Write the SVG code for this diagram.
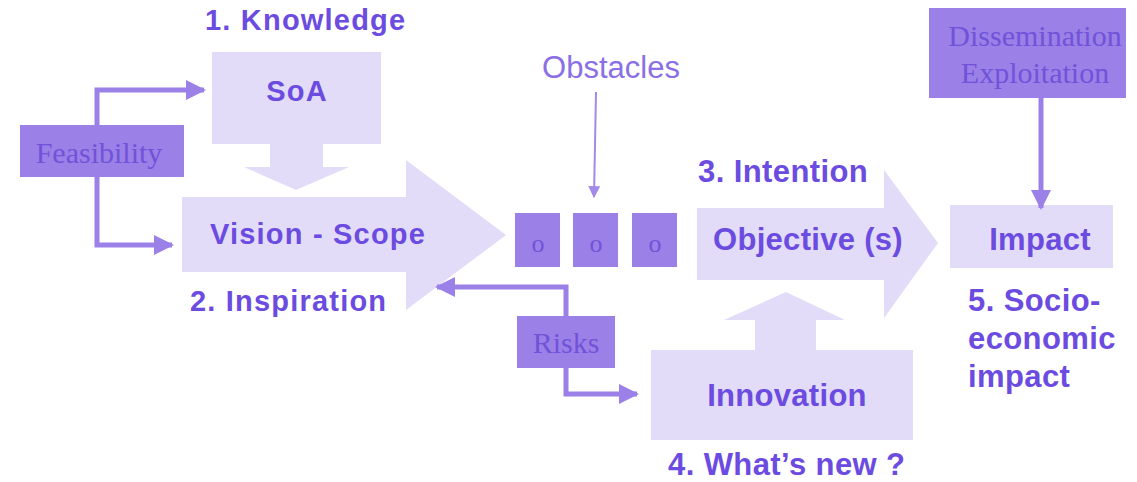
<svg xmlns="http://www.w3.org/2000/svg" width="1137" height="482" viewBox="0 0 1137 482">
<defs>
<style>
.light{fill:#e2dcf8}
.dark{fill:#9b80e8}
.lbl{font-family:"Liberation Sans",Arial,sans-serif;font-weight:bold;font-size:29px;letter-spacing:1.2px;fill:#6b4be0}
.lbl2{font-family:"Liberation Sans",Arial,sans-serif;font-weight:bold;font-size:31px;letter-spacing:0.4px;fill:#6b4be0}
.inl{font-family:"Liberation Sans",Arial,sans-serif;font-weight:bold;font-size:29px;letter-spacing:1.2px;fill:#6b4be0;text-anchor:middle}
.inl2{font-family:"Liberation Sans",Arial,sans-serif;font-weight:bold;font-size:31px;letter-spacing:0.3px;fill:#6b4be0;text-anchor:middle}
.ser{font-family:"Liberation Serif","Times New Roman",serif;font-size:30px;fill:#7053d8;text-anchor:middle}
.con{fill:none;stroke:#9b80e8;stroke-width:5}
.thin{fill:none;stroke:#a38ae8;stroke-width:2}
</style>
<marker id="ah" viewBox="0 0 10 10" refX="9" refY="5" markerWidth="4" markerHeight="4" markerUnits="strokeWidth" orient="auto">
<path d="M0,0 L10,5 L0,10 z" fill="#9b80e8"/>
</marker>
<marker id="ahs" viewBox="0 0 10 10" refX="9" refY="5" markerWidth="6" markerHeight="7" markerUnits="strokeWidth" orient="auto">
<path d="M0,0 L10,5 L0,10 z" fill="#a38ae8"/>
</marker>
</defs>
<rect width="1137" height="482" fill="#ffffff"/>

<g id="soa">
<path class="light" d="M212,52 H381 V144 H323 V167 H349 L296,190 L244,167 H270 V144 H212 Z"/>
<text class="inl" x="297" y="101">SoA</text>
<text class="lbl" x="205" y="30">1. Knowledge</text>
</g>

<g id="vision">
<path class="light" d="M182,197 H406 V160 L506,235 L406,310 V272 H182 Z"/>
<text class="inl" x="318" y="244">Vision - Scope</text>
<text class="lbl" x="190" y="311">2. Inspiration</text>
</g>

<g id="feasibility">
<rect class="dark" x="20" y="125" width="164" height="52"/>
<text class="ser" x="99" y="163">Feasibility</text>
</g>

<g id="obstacles">
<text x="611" y="78" style="font-family:'Liberation Sans',Arial,sans-serif;font-size:31px;fill:#8a6fe6;text-anchor:middle">Obstacles</text>
</g>

<g id="o1"><rect class="dark" x="515" y="213" width="45" height="54"/><text class="ser" x="538" y="252" style="font-size:26px">o</text></g>
<g id="o2"><rect class="dark" x="573" y="213" width="45" height="54"/><text class="ser" x="596" y="252" style="font-size:26px">o</text></g>
<g id="o3"><rect class="dark" x="632" y="213" width="45" height="54"/><text class="ser" x="655" y="252" style="font-size:26px">o</text></g>

<g id="objective">
<path class="light" d="M697,208 H884 V170 L938,243 L884,318 V280 H697 Z"/>
<text class="inl2" x="808" y="250">Objective (s)</text>
<text class="lbl2" x="698" y="182">3. Intention</text>
</g>

<g id="impact">
<rect class="light" x="950" y="205" width="163" height="63"/>
<text class="inl2" x="1040" y="250">Impact</text>
<text class="lbl2" x="968" y="311">5. Socio-</text>
<text class="lbl2" x="968" y="349">economic</text>
<text class="lbl2" x="968" y="387">impact</text>
</g>

<g id="dissemination">
<rect class="dark" x="929" y="8" width="197" height="90"/>
<text class="ser" x="1035" y="46">Dissemination</text>
<text class="ser" x="1035" y="83">Exploitation</text>
</g>

<g id="risks">
<rect class="dark" x="517" y="316" width="98" height="52"/>
<text class="ser" x="566" y="353">Risks</text>
</g>

<g id="innovation">
<path class="light" d="M651,350 H755 V320 H724 L786,292 L845,320 H816 V350 H913 V440 H651 Z"/>
<text class="inl2" x="787" y="406">Innovation</text>
<text class="lbl2" x="668" y="475">4. What’s new ?</text>
</g>

<g id="connectors">
<path class="con" d="M97,125 V90 H204" marker-end="url(#ah)"/>
<path class="con" d="M97,177 V245 H172" marker-end="url(#ah)"/>
<path class="con" d="M566,316 V287 H437" marker-end="url(#ah)"/>
<path class="con" d="M566,368 V394 H637" marker-end="url(#ah)"/>
<path class="con" d="M1041,98 V208" marker-end="url(#ah)"/>
<path class="thin" d="M596,92 L594,197" marker-end="url(#ahs)"/>
</g>
</svg>
